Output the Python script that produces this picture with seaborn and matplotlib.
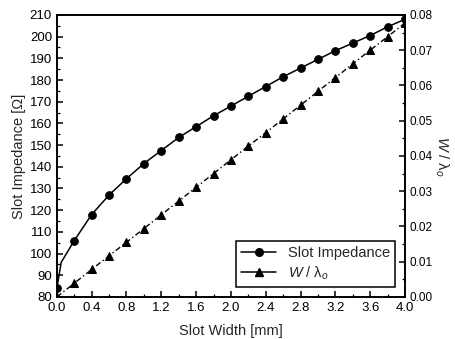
import matplotlib
matplotlib.use("Agg")
import matplotlib.pyplot as plt
import seaborn as sns
from matplotlib.ticker import MultipleLocator, FormatStrFormatter
from matplotlib.lines import Line2D

sns.set_style("ticks")
plt.rcParams['font.family'] = ['Liberation Sans', 'DejaVu Sans']
plt.rcParams['mathtext.fontset'] = 'custom'
plt.rcParams['mathtext.it'] = 'Liberation Sans:italic'
plt.rcParams['mathtext.rm'] = 'Liberation Sans'

width_mm = [0.0, 0.05, 0.2, 0.4, 0.6, 0.8, 1.0, 1.2, 1.4, 1.6, 1.8, 2.0,
            2.2, 2.4, 2.6, 2.8, 3.0, 3.2, 3.4, 3.6, 3.8, 4.0]
impedance = [84.0, 96.0, 106.0, 118.0, 127.0, 134.5, 141.5, 147.5, 153.5, 158.5,
             163.5, 168.0, 172.5, 177.0, 181.5, 185.5, 189.5, 193.5, 197.0,
             200.5, 204.5, 208.0]
width_lambda_x = [0.0, 0.2, 0.4, 0.6, 0.8, 1.0, 1.2, 1.4, 1.6, 1.8, 2.0,
                  2.2, 2.4, 2.6, 2.8, 3.0, 3.2, 3.4, 3.6, 3.8, 4.0]
w_over_lambda = [0.0, 0.0039, 0.0078, 0.0117, 0.0155, 0.0194, 0.0233, 0.0272,
                 0.0311, 0.0350, 0.0389, 0.0428, 0.0466, 0.0505, 0.0544,
                 0.0583, 0.0622, 0.0661, 0.0700, 0.0738, 0.0777]

fig = plt.figure(figsize=(4.55, 3.39), dpi=100)
ax = fig.add_axes([0.125, 0.124, 0.765, 0.832])
ax2 = ax.twinx()

imp_marks = [i for i, x in enumerate(width_mm) if x != 0.05]
sns.lineplot(x=width_mm, y=impedance, ax=ax, color='black', linewidth=1.1,
             marker='o', markersize=5.5, markevery=imp_marks, markeredgecolor='black')
sns.lineplot(x=width_lambda_x, y=w_over_lambda, ax=ax2, color='black',
             linewidth=1.0, marker='^', markersize=5.5, markeredgecolor='black')
ax2.lines[0].set_dashes([4, 2, 1, 2])

ax.set_xlim(0, 4.0)
ax.set_ylim(80, 210)
ax2.set_ylim(0, 0.08)

ax.xaxis.set_major_locator(MultipleLocator(0.4))
ax.xaxis.set_minor_locator(MultipleLocator(0.2))
ax.yaxis.set_major_locator(MultipleLocator(10))
ax.yaxis.set_minor_locator(MultipleLocator(5))
ax2.yaxis.set_major_locator(MultipleLocator(0.01))
ax2.yaxis.set_minor_locator(MultipleLocator(0.005))
ax.xaxis.set_major_formatter(FormatStrFormatter('%.1f'))
ax2.yaxis.set_major_formatter(FormatStrFormatter('%.2f'))

for a in (ax, ax2):
    a.tick_params(which='both', direction='in', colors='black', labelsize=9.5)
    a.tick_params(which='major', length=4, width=1.1)
    a.tick_params(which='minor', length=2, width=0.9)
    for s in a.spines.values():
        s.set_visible(True)
        s.set_color('black')
        s.set_linewidth(1.2)
ax.tick_params(axis='x', top=False)
ax2.tick_params(axis='y', labelsize=8.5, pad=3)

ax.set_xlabel('Slot Width [mm]', fontsize=10.5, labelpad=7)
ax.set_ylabel('Slot Impedance [Ω]', fontsize=10.5, labelpad=3)
ax2.set_ylabel('$W$ / λ$_o$', fontsize=10.5, rotation=270, labelpad=13)

lh1 = Line2D([], [], color='black', marker='o', markersize=5.5, linewidth=1.1)
lh2 = Line2D([], [], color='black', marker='^', markersize=5.5, linewidth=1.1)
leg = ax2.legend([lh1, lh2], ['Slot Impedance', '$W$ / λ$_o$'], loc='lower right',
                 fontsize=10.5, frameon=True, fancybox=False, edgecolor='black',
                 framealpha=1, borderaxespad=0.3, handlelength=2.4,
                 bbox_to_anchor=(0.985, 0.02), borderpad=0.35, labelspacing=0.3)
leg.get_frame().set_linewidth(1.1)

fig.savefig('out.png', dpi=100)
